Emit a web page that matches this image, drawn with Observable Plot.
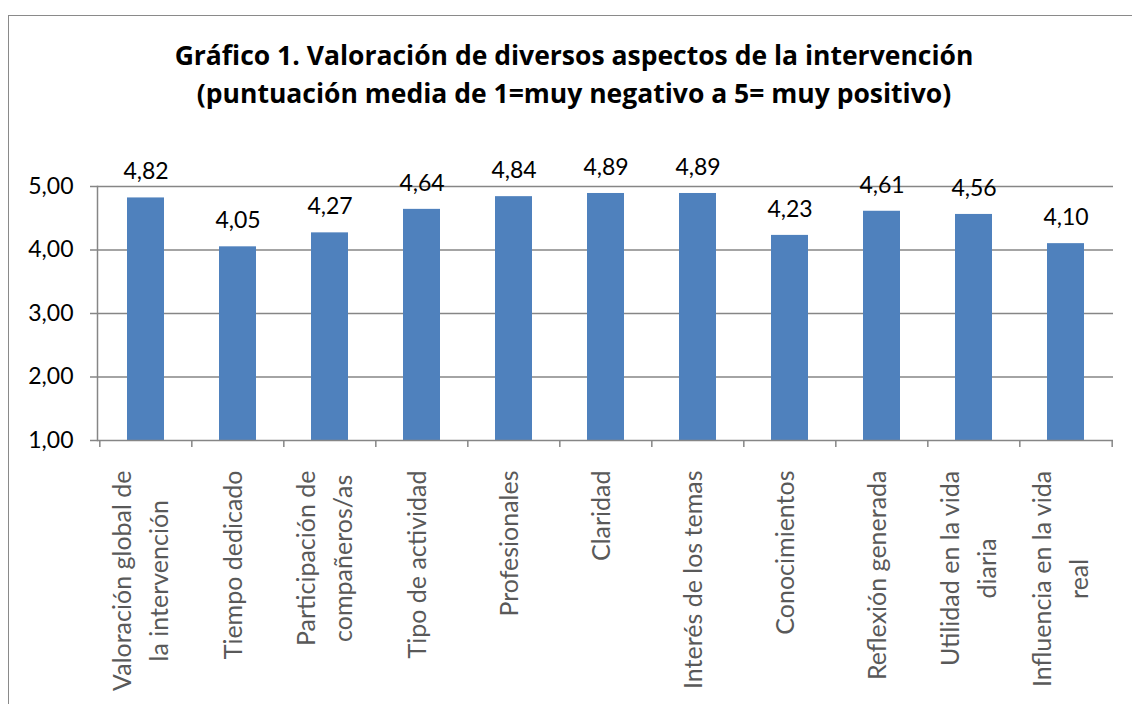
<!DOCTYPE html>
<html><head><meta charset="utf-8">
<script src="https://cdn.jsdelivr.net/npm/d3@7"></script>
<script src="https://cdn.jsdelivr.net/npm/@observablehq/plot@0.6"></script>
<style>
body{margin:0;background:#fff;}
#wrap{position:relative;width:1132px;height:704px;overflow:hidden;font-family:Lato,"Open Sans",sans-serif;}
#frame{position:absolute;left:8px;top:15px;width:1300px;height:900px;border-left:1.5px solid #8a8a8a;border-top:1.5px solid #8a8a8a;}
#title{position:absolute;left:0;top:0;width:1148px;text-align:center;font-family:"Open Sans",Lato,sans-serif;font-weight:bold;font-size:26.5px;line-height:38px;padding-top:36px;color:#000;}
#chart{position:absolute;left:0;top:130px;}
</style>
</head><body>
<div id="wrap">
<div id="frame"></div>
<div id="title">Gráfico 1. Valoración de diversos aspectos de la intervención<br>(puntuación media de 1=muy negativo a 5= muy positivo)</div>
<div id="chart"></div>
</div>
<script>
const categories = [
  "Valoración global de\nla intervención",
  "Tiempo dedicado",
  "Participación de\ncompañeros/as",
  "Tipo de actividad",
  "Profesionales",
  "Claridad",
  "Interés de los temas",
  "Conocimientos",
  "Reflexión generada",
  "Utilidad en la vida\ndiaria",
  "Influencia en la vida\nreal"
];
const values = [4.82, 4.05, 4.27, 4.64, 4.84, 4.89, 4.89, 4.23, 4.61, 4.56, 4.10];
const yTicks = [1, 2, 3, 4, 5];
const gridValues = [2, 3, 4, 5];

const data = categories.map((c, i) => ({cat: c, value: values[i]}));
const fmt = d => d.toFixed(2).replace(".", ",");

const W = 1132, H = 574, mL = 97, mR = 19, mT = 56, mB = 264;
const step = (W - mL - mR) / categories.length;
const FONT = 'Lato, "Open Sans", sans-serif';
const labelSize = 25;

const ctx = document.createElement("canvas").getContext("2d");
ctx.font = `${labelSize}px ${FONT}`;
const labelWidth = s => Math.max(...s.split("\n").map(l => ctx.measureText(l).width));

const labelMarks = data.map(d => Plot.text([d], {
  x: "cat",
  frameAnchor: "bottom",
  text: "cat",
  rotate: -90,
  textAnchor: "middle",
  lineAnchor: "middle",
  lineHeight: 1.45,
  fontSize: labelSize,
  fill: "#595959",
  dx: -8,
  dy: 30 + labelWidth(d.cat) / 2
}));

const chart = Plot.plot({
  width: W, height: H,
  marginLeft: mL, marginRight: mR, marginTop: mT, marginBottom: mB,
  style: {fontFamily: FONT, background: "transparent", overflow: "visible"},
  x: {type: "band", domain: categories, paddingInner: 0.6, paddingOuter: 0.3, axis: null},
  y: {domain: [1, 5], axis: null},
  marks: [
    Plot.ruleY(gridValues, {stroke: "#868686", strokeWidth: 1.5}),
    Plot.barY(data, {x: "cat", y1: 1, y2: "value", fill: "#4F81BD"}),
    Plot.ruleY([1], {stroke: "#868686", strokeWidth: 1.5}),
    Plot.frame({anchor: "left", stroke: "#868686", strokeWidth: 1.5}),
    Plot.ruleX(categories, {x: d => d, y1: 1, y2: 1, dx: -step / 2, insetTop: 0, insetBottom: -7, stroke: "#868686", strokeWidth: 1.5}),
    Plot.ruleX(categories.slice(-1), {x: d => d, y1: 1, y2: 1, dx: step / 2, insetTop: 0, insetBottom: -7, stroke: "#868686", strokeWidth: 1.5}),
    Plot.axisY({ticks: yTicks, label: null, tickSize: 7, tickPadding: 17, tickFormat: fmt, fontSize: 23, stroke: "#868686", strokeWidth: 1.5, fill: "#000", strokeOpacity: 1}),
    Plot.text(data, {x: "cat", y: "value", text: d => fmt(d.value), dy: -26, fontSize: 23, fill: "#000"}),
    ...labelMarks
  ]
});
document.getElementById("chart").appendChild(chart);
</script>
</body></html>
